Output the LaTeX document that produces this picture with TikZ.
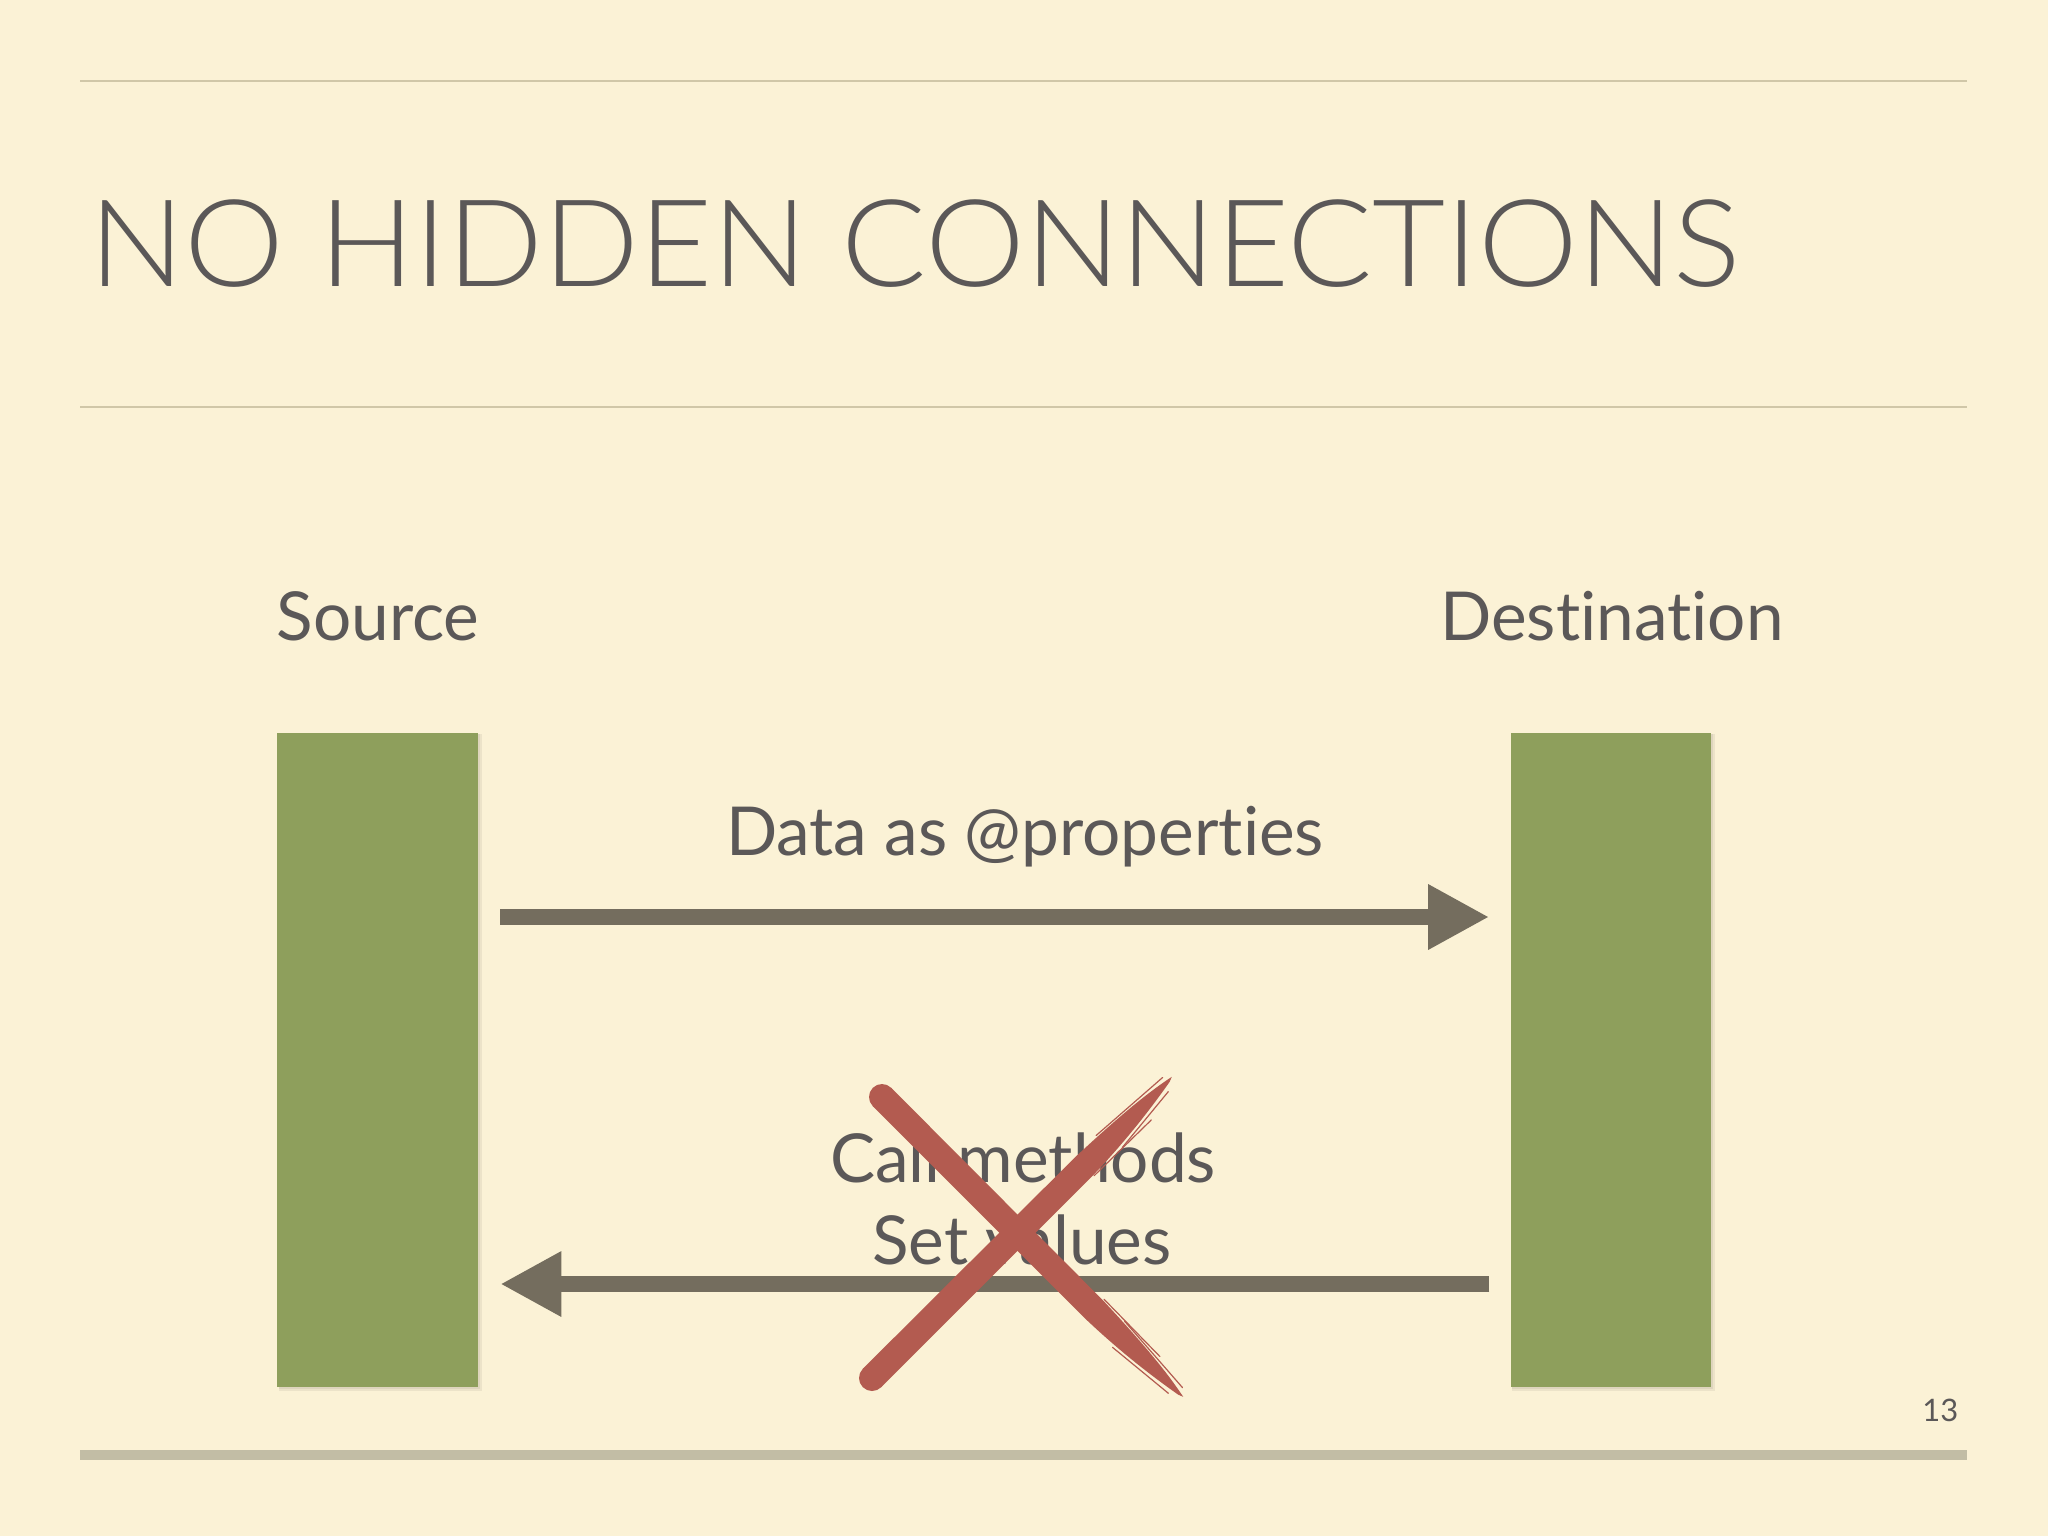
\documentclass[tikz,border=0pt]{standalone}
\usepackage{fontspec}
\setmainfont{Lato}[Ligatures=NoCommon]
\newfontfamily\titlefont{Lato Light}[Ligatures=NoCommon]
\usetikzlibrary{arrows.meta,calc}
\definecolor{bgc}{HTML}{FBF2D6}
\definecolor{rulec}{HTML}{D0C7A8}
\definecolor{barc}{HTML}{C2BDA5}
\definecolor{txtc}{HTML}{5B5858}
\definecolor{arrc}{HTML}{746D5E}
\definecolor{grn}{HTML}{8E9F5C}
\definecolor{xred}{HTML}{B35B50}
\tikzset{
  lbl/.style={inner sep=0pt, anchor=base, text=txtc, font=\fontsize{19.2}{23}\selectfont},
  column/.style={draw=none, fill=grn, minimum width=2.0cm, minimum height=6.54cm, inner sep=0pt},
  shade1/.style={fill=black, fill opacity=0.06, draw=none},
  conn/.style={draw=arrc, line width=0.16cm, line cap=butt, -{Triangle[length=0.61cm,width=0.61cm]}},
  rulel/.style={draw=rulec, line width=0.02cm},
  brush/.style={fill=xred, draw=none},
  fiber/.style={draw=xred, line width=0.012cm, line cap=round}
}
\begin{document}
\begin{tikzpicture}[x=0.01cm,y=-0.01cm]
\useasboundingbox[fill=bgc] (0,0) rectangle (2048,1536);
% rules
\draw[rulel] (80,81) -- (1967,81);
\draw[rulel] (80,407) -- (1967,407);
\fill[barc] (80,1450) rectangle (1967,1460);
% title
\node[inner sep=0pt, anchor=base west, text=txtc, font=\titlefont\fontsize{34.5}{40}\selectfont] (title) at (89,286) {\scalebox{1.04}[1]{NO HIDDEN CONNECTIONS}};
% labels
\node[lbl] (srclbl) at (378,640) {Source};
\node[lbl] (dstlbl) at (1612,640) {Destination};
% column shadows
\foreach \cx in {377.5,1611} {
  \fill[shade1] (\cx-100+1,734) rectangle (\cx+100+4,1391);
  \fill[shade1] (\cx-100+1,734) rectangle (\cx+100+2,1389);
}
% columns
\node[column] (src) at (377.5,1060) {};
\node[column] (dst) at (1611,1060) {};
% arrows
\coordinate (ytop) at (0,917);
\coordinate (ybot) at (0,1284);
\draw[conn] ($(src.east|-ytop)+(22,0)$) -- ($(dst.west|-ytop)+(-21,0)$);
\node[lbl] (datalbl) at (1025,855) {Data as @properties};
\draw[conn] ($(dst.west|-ybot)+(-21,0)$) -- ($(src.east|-ybot)+(22,0)$);
\node[lbl] (callm) at (1023,1182) {Call methods};
\node[lbl] (setv) at (1022,1264) {Set values};
% red cross, stroke 1 (top-left to bottom-right)
\begin{scope}[shift={(882,1097)}, rotate=-45]
  \fill[brush] (0,0) circle[radius=13];
  \fill[brush] (0,-13) -- (300,-12.5) .. controls (370,-10) and (400,-6) .. (425,-1)
     -- (420,1) .. controls (380,8) and (340,12) .. (300,13) -- (0,13) -- cycle;
  \draw[fiber] (330,-13) -- (418,-7);
  \draw[fiber] (340,14) -- (412,7);
  \draw[fiber] (300,-14) -- (380,-13);
\end{scope}
% red cross, stroke 2 (bottom-left to top-right)
\begin{scope}[shift={(872,1378)}, rotate=45]
  \fill[brush] (0,0) circle[radius=13];
  \fill[brush] (0,-13) -- (300,-12.5) .. controls (370,-10) and (400,-6) .. (425,-1)
     -- (420,1) .. controls (380,8) and (340,12) .. (300,13) -- (0,13) -- cycle;
  \draw[fiber] (330,-13) -- (418,-7);
  \draw[fiber] (340,14) -- (412,7);
  \draw[fiber] (300,14) -- (380,15);
\end{scope}
% page number
\node[inner sep=0pt, anchor=base east, text=txtc, font=\fontsize{8.8}{10}\selectfont] (pgnum) at (1959,1421) {13};
\end{tikzpicture}
\end{document}
